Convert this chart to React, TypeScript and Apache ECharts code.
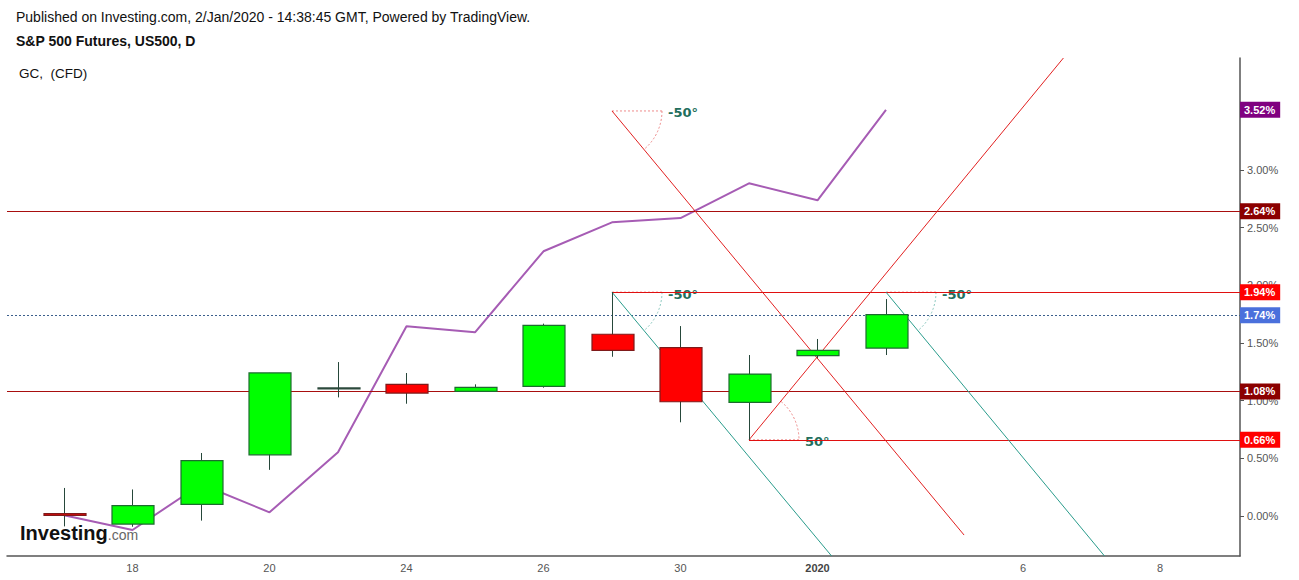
import React, { useEffect, useRef } from "react";
import * as echarts from "echarts";

// ---- data (percent change) ----
const candleIndex = [0, 1, 2, 3, 4, 5, 6, 7, 8, 9, 10, 11, 12];
const openValues = [0.02, -0.07, 0.10, 0.53, 1.11, 1.14, 1.08, 1.124, 1.575, 1.46, 0.985, 1.39, 1.455];
const closeValues = [0.005, 0.09, 0.48, 1.24, 1.11, 1.065, 1.115, 1.652, 1.435, 0.99, 1.23, 1.435, 1.745];
const highValues = [0.243, 0.23, 0.546, 1.24, 1.334, 1.239, 1.141, 1.667, 1.94, 1.646, 1.395, 1.534, 1.88];
const lowValues = [-0.09, -0.093, -0.04, 0.40, 1.028, 0.973, 1.08, 1.112, 1.38, 0.812, 0.66, 1.37, 1.395];
const gcValues = [0.006, -0.121, 0.275, 0.032, 0.552, 1.644, 1.592, 2.294, 2.545, 2.582, 2.883, 2.736, 3.52];

const xTickIndex = [1, 3, 5, 7, 9, 11, 14, 16];
const xTickLabels = ["18", "20", "24", "26", "30", "2020", "6", "8"];
const yTickValues = [0, 0.5, 1, 1.5, 2, 2.5, 3];

const X_MIN = -0.832;
const X_MAX = 17.168;
const Y_MIN = -0.3466;
const Y_MAX = 3.969;

const darkLevels = [2.64, 1.08];
const redLevels = [1.94, 0.66];
const redLevelStart = [8, 10];
const lastPrice = 1.74;
const gcLast = 3.52;

const angleStartX = [8, 8, 12, 10];
const angleStartY = [3.51, 1.94, 1.94, 0.66];
const angleEndX = [13.14, 11.206, 15.19, 14.59];
const angleEndY = [-0.165, Y_MIN, Y_MIN, Y_MAX];
const angleDeg = [-50, -50, -50, 50];
const angleIsTeal = [false, true, true, false];

const FONT = "Arial, 'Liberation Sans', sans-serif";

export default function App() {
  const ref = useRef<HTMLDivElement>(null);

  useEffect(() => {
    if (!ref.current) return;
    const chart = echarts.init(ref.current, undefined, { renderer: "svg" });

    const candleData = candleIndex.map((i, k) => [i, openValues[k], closeValues[k], lowValues[k], highValues[k]]);

    const badge = (bg: string, v: number) => ({
      show: true,
      position: "end",
      distance: 0,
      formatter: v.toFixed(2) + "%",
      backgroundColor: bg,
      color: "#fff",
      fontWeight: "bold",
      fontSize: 11,
      fontFamily: FONT,
      lineHeight: 12,
      padding: [2, 5, 2, 4],
    });

    const levelLines: any[] = [];
    darkLevels.forEach((v) => {
      levelLines.push({ yAxis: v, lineStyle: { color: "#a80e0e", width: 1, type: "solid" }, label: badge("#8b0000", v) });
    });
    redLevels.forEach((v, k) => {
      levelLines.push([
        { coord: [redLevelStart[k], v], lineStyle: { color: "#e01010", width: 1, type: "solid" }, label: badge("#ff0000", v) },
        { coord: [X_MAX, v] },
      ]);
    });
    levelLines.push({ yAxis: lastPrice, lineStyle: { color: "#3b5f8c", width: 1, type: [2, 2] }, label: badge("#4a70dc", lastPrice) });
    levelLines.push({ yAxis: gcLast, lineStyle: { color: "rgba(0,0,0,0)", width: 1 }, label: badge("#800080", gcLast) });

    const angleLines: any[] = angleStartX.map((x, k) => [
      {
        coord: [x, angleStartY[k]],
        lineStyle: { color: angleIsTeal[k] ? "#2a9c8c" : "#e22020", width: 1, type: "solid" },
        label: { show: false },
      },
      { coord: [angleEndX[k], angleEndY[k]] },
    ]);

    const angleData = angleStartX.map((x, k) => [x, angleStartY[k], angleDeg[k], angleIsTeal[k] ? 1 : 0]);

    const option: any = {
      animation: false,
      backgroundColor: "#ffffff",
      grid: { left: 7, right: 59, top: 58, bottom: 24, containLabel: false },
      xAxis: {
        type: "value",
        min: X_MIN,
        max: X_MAX,
        splitLine: { show: false },
        axisLine: { show: true, onZero: false, lineStyle: { color: "#555", width: 1.5 } },
        axisTick: { show: false },
        axisLabel: {
          customValues: xTickIndex,
          margin: 6,
          color: "#555",
          fontSize: 11,
          fontFamily: FONT,
          formatter: (v: number) => {
            const k = xTickIndex.indexOf(Math.round(v));
            const t = k >= 0 ? xTickLabels[k] : "";
            return t === "2020" ? "{b|2020}" : t;
          },
          rich: { b: { fontWeight: "bold", color: "#444", fontSize: 11, fontFamily: FONT } },
        },
      },
      yAxis: {
        type: "value",
        position: "right",
        min: Y_MIN,
        max: Y_MAX,
        splitLine: { show: false },
        axisLine: { show: true, onZero: false, lineStyle: { color: "#555", width: 1.5 } },
        axisTick: { show: true, customValues: yTickValues, length: 4, lineStyle: { color: "#555" } },
        axisLabel: {
          customValues: yTickValues,
          margin: 7,
          color: "#555",
          fontSize: 11,
          fontFamily: FONT,
          formatter: (v: number) => v.toFixed(2) + "%",
        },
      },
      graphic: [
        {
          type: "text",
          left: 16,
          top: 10,
          style: { text: "Published on Investing.com, 2/Jan/2020 - 14:38:45 GMT, Powered by TradingView.", font: "14px " + FONT, fill: "#111" },
        },
        {
          type: "text",
          left: 16,
          top: 34,
          style: { text: "S&P 500 Futures, US500, D", font: "bold 14px " + FONT, fill: "#111" },
        },
        {
          type: "text",
          left: 19,
          top: 66,
          style: { text: "GC,  (CFD)", font: "13.5px " + FONT, fill: "#111" },
        },
        {
          type: "text",
          left: 20,
          top: 523,
          z: 100,
          style: {
            text: "{a|Investing}{b|.com}",
            rich: {
              a: { fontSize: 20, fontWeight: "bold", fontFamily: FONT, fill: "#111", color: "#111" },
              b: { fontSize: 14, fontFamily: FONT, fill: "#666", color: "#666", padding: [4, 0, 0, 0] },
            },
          },
        },
      ],
      series: [
        {
          name: "levels",
          type: "line",
          data: [],
          z: 1,
          markLine: { silent: true, symbol: ["none", "none"], animation: false, data: levelLines },
        },
        {
          name: "angles",
          type: "line",
          data: [],
          z: 2,
          markLine: { silent: true, symbol: ["none", "none"], animation: false, label: { show: false }, data: angleLines },
        },
        {
          name: "angleMarks",
          type: "custom",
          z: 2,
          silent: true,
          data: angleData,
          encode: { x: 0, y: 1 },
          renderItem: (params: any, api: any) => {
            const p = api.coord([api.value(0), api.value(1)]);
            const deg = api.value(2);
            const teal = api.value(3) === 1;
            const r = 50;
            const rad = (Math.abs(deg) * Math.PI) / 180;
            const arcColor = teal ? "#8cc9c0" : "#ee8a8a";
            const down = deg < 0;
            return {
              type: "group",
              children: [
                {
                  type: "line",
                  shape: { x1: p[0], y1: p[1], x2: p[0] + r, y2: p[1] },
                  style: { stroke: "#ee8a8a", lineWidth: 1, lineDash: [2, 2] },
                },
                {
                  type: "arc",
                  shape: {
                    cx: p[0],
                    cy: p[1],
                    r,
                    startAngle: down ? 0 : -rad,
                    endAngle: down ? rad : 0,
                    clockwise: true,
                  },
                  style: { stroke: arcColor, fill: null, lineWidth: 1, lineDash: [2, 2] },
                },
                {
                  type: "text",
                  x: p[0] + 56,
                  y: p[1] + 2,
                  style: {
                    text: (deg < 0 ? "-" : "") + Math.abs(deg) + "°",
                    fill: "#226e5c",
                    font: "bold 13px 'DejaVu Sans', sans-serif",
                    verticalAlign: "middle",
                    align: "left",
                  },
                },
              ],
            };
          },
        },
        {
          name: "GC",
          type: "line",
          z: 3,
          data: gcValues.map((v, i) => [candleIndex[i], v]),
          symbol: "none",
          lineStyle: { color: "#a65cb4", width: 2 },
        },
        {
          name: "US500",
          type: "custom",
          z: 5,
          data: candleData,
          encode: { x: 0, y: [1, 2, 3, 4] },
          renderItem: (params: any, api: any) => {
            const i = api.value(0);
            const o = api.value(1);
            const c = api.value(2);
            const l = api.value(3);
            const h = api.value(4);
            const pO = api.coord([i, o]);
            const pC = api.coord([i, c]);
            const pL = api.coord([i, l]);
            const pH = api.coord([i, h]);
            const w = api.size([1, 0])[0] * 0.61;
            const x = Math.round(pO[0]) + 0.5;
            const doji = Math.abs(o - c) < 1e-6;
            const up = c > o;
            const top = Math.min(pO[1], pC[1]);
            const bot = Math.max(pO[1], pC[1]);
            return {
              type: "group",
              children: [
                {
                  type: "line",
                  shape: { x1: x, y1: pH[1], x2: x, y2: pL[1] },
                  style: { stroke: "#26473a", lineWidth: 1 },
                },
                {
                  type: "rect",
                  shape: { x: Math.round(x - w / 2), y: top, width: Math.round(w), height: Math.max(bot - top, 1) },
                  style: {
                    fill: doji ? "#2c4a3c" : up ? "#00ff00" : "#ff0000",
                    stroke: doji ? "#2c4a3c" : up ? "#1d6b2f" : "#7f1a1a",
                    lineWidth: 1.2,
                  },
                },
              ],
            };
          },
        },
      ],
    };

    chart.setOption(option);
    return () => chart.dispose();
  }, []);

  return (
    <div
      ref={ref}
      style={{ position: "fixed", left: 0, top: 0, width: 1299, height: 580, background: "#fff" }}
    />
  );
}
